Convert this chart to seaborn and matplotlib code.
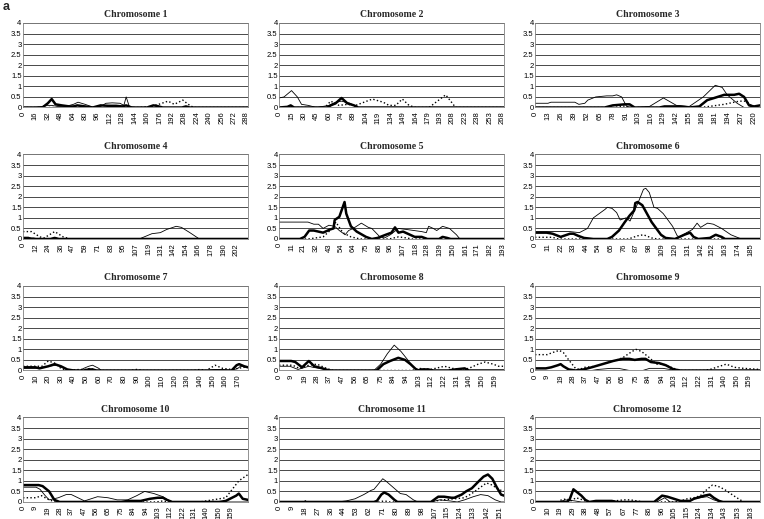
"""
plot.py
-------
Small multiples: score profiles along chromosomes 1-12 (three series per panel).
Run: python plot.py  ->  out.png
"""

import matplotlib
matplotlib.use("Agg")
import matplotlib.pyplot as plt
import seaborn as sns

# ---- x tick labels per chromosome (Excel-style category labels) ----
c1_ticks = [0, 16, 32, 48, 64, 80, 96, 112, 128, 144, 160, 176, 192, 208, 224, 240, 256, 272, 288]
c2_ticks = [0, 15, 30, 45, 60, 74, 89, 104, 119, 134, 149, 164, 179, 193, 208, 223, 238, 253, 268]
c3_ticks = [0, 13, 26, 39, 52, 65, 78, 91, 103, 116, 129, 142, 155, 168, 181, 194, 207, 220]
c4_ticks = [0, 12, 24, 36, 47, 59, 71, 83, 95, 107, 119, 131, 142, 154, 166, 178, 190, 202]
c5_ticks = [0, 11, 21, 32, 43, 54, 64, 75, 86, 96, 107, 118, 128, 139, 150, 161, 171, 182, 193]
c6_ticks = [0, 11, 22, 33, 44, 54, 65, 76, 87, 98, 109, 120, 131, 142, 152, 163, 174, 185]
c7_ticks = [0, 10, 20, 30, 40, 50, 60, 70, 80, 90, 100, 110, 120, 130, 140, 150, 160, 170]
c8_ticks = [0, 9, 19, 28, 37, 47, 56, 65, 75, 84, 94, 103, 112, 122, 131, 140, 150, 159]
c9_ticks = [0, 9, 19, 28, 37, 47, 56, 65, 75, 84, 94, 103, 112, 122, 131, 140, 150, 159]
c10_ticks = [0, 9, 19, 28, 37, 47, 56, 65, 75, 84, 94, 103, 112, 122, 131, 140, 150, 159]
c11_ticks = [0, 9, 18, 27, 36, 44, 53, 62, 71, 80, 89, 98, 107, 115, 124, 133, 142, 151]
c12_ticks = [0, 10, 19, 29, 38, 48, 57, 67, 77, 86, 96, 105, 115, 124, 134, 143, 153, 163]

# last position on each chromosome
chrom_end = [290, 270, 226, 213, 194, 193, 178, 166, 167, 172, 154, 170]

# ---- series: thin solid, dotted, thick solid ----
c1_thin_x = [0, 15, 25, 30, 37, 45, 55, 65, 71, 80, 90, 100, 107, 115, 125, 130, 133, 137, 145, 290]
c1_thin_y = [0, 0, 0.05, 0.1, 0.1, 0.05, 0.05, 0.15, 0.25, 0.15, 0.02, 0.05, 0.2, 0.22, 0.2, 0.1, 0.5, 0.05, 0, 0]
c1_dot_x = [0, 150, 165, 175, 187, 195, 206, 213, 220, 290]
c1_dot_y = [0, 0, 0.05, 0.15, 0.3, 0.15, 0.35, 0.15, 0, 0]
c1_thick_x = [0, 25, 32, 37, 42, 50, 60, 65, 70, 80, 90, 95, 100, 110, 120, 128, 133, 140, 160, 168, 172, 180, 205, 210, 215, 290]
c1_thick_y = [0, 0, 0.2, 0.4, 0.15, 0.1, 0.05, 0.05, 0.1, 0.05, 0, 0.05, 0.1, 0.08, 0.08, 0.05, 0.1, 0, 0, 0.1, 0.08, 0, 0, 0.05, 0, 0]

c2_thin_x = [0, 6, 15, 22, 27, 35, 45, 60, 68, 75, 85, 95, 270]
c2_thin_y = [0.45, 0.5, 0.8, 0.5, 0.15, 0.1, 0, 0.1, 0.25, 0.3, 0.2, 0, 0]
c2_dot_x = [0, 55, 62, 72, 82, 92, 112, 125, 132, 140, 148, 156, 164, 180, 200, 212, 270]
c2_dot_y = [0, 0, 0.3, 0.1, 0.15, 0.1, 0.4, 0.25, 0.1, 0.1, 0.4, 0.1, 0, 0, 0.6, 0, 0]
c2_thick_x = [0, 10, 14, 18, 58, 62, 68, 75, 82, 90, 95, 270]
c2_thick_y = [0, 0.03, 0.1, 0, 0, 0.1, 0.2, 0.45, 0.2, 0.1, 0, 0]

c3_thin_x = [0, 13, 16, 40, 44, 50, 53, 61, 72, 78, 82, 87, 92, 100, 115, 129, 142, 155, 169, 181, 188, 193, 203, 210, 226]
c3_thin_y = [0.2, 0.2, 0.25, 0.25, 0.15, 0.2, 0.35, 0.5, 0.55, 0.55, 0.6, 0.5, 0.05, 0, 0.05, 0.45, 0.1, 0.05, 0.5, 1.05, 0.95, 0.6, 0.2, 0, 0]
c3_dot_x = [0, 80, 88, 95, 165, 175, 190, 205, 212, 220, 226]
c3_dot_y = [0, 0, 0.08, 0, 0, 0.05, 0.15, 0.3, 0.3, 0, 0]
c3_thick_x = [0, 70, 78, 90, 95, 100, 125, 130, 145, 155, 165, 173, 180, 190, 200, 205, 210, 215, 220, 226]
c3_thick_y = [0, 0, 0.1, 0.15, 0.15, 0, 0, 0.05, 0.05, 0, 0.05, 0.35, 0.45, 0.6, 0.6, 0.65, 0.5, 0.1, 0.05, 0.1]

c4_thin_x = [0, 10, 15, 25, 30, 36, 45, 110, 122, 130, 136, 145, 150, 158, 167, 213]
c4_thin_y = [0.05, 0.05, 0, 0, 0.05, 0, 0, 0, 0.25, 0.3, 0.45, 0.6, 0.55, 0.3, 0, 0]
c4_dot_x = [0, 8, 16, 20, 30, 38, 45, 213]
c4_dot_y = [0.35, 0.35, 0.1, 0.05, 0.35, 0.1, 0, 0]
c4_thick_x = [0, 5, 8, 26, 30, 34, 213]
c4_thick_y = [0.05, 0.05, 0, 0, 0.05, 0, 0]

c5_thin_x = [0, 25, 30, 34, 38, 43, 48, 52, 57, 60, 64, 71, 77, 80, 87, 91, 96, 103, 110, 123, 127, 129, 133, 136, 141, 147, 153, 156, 194]
c5_thin_y = [0.8, 0.8, 0.7, 0.7, 0.5, 0.65, 0.6, 0.4, 0.2, 0.4, 0.5, 0.75, 0.55, 0.5, 0.1, 0.05, 0.2, 0.5, 0.45, 0.35, 0.3, 0.6, 0.5, 0.4, 0.6, 0.5, 0.2, 0, 0]
c5_dot_x = [0, 25, 38, 46, 49, 55, 62, 70, 95, 103, 110, 115, 194]
c5_dot_y = [0, 0, 0.1, 0.5, 0.8, 0.3, 0.1, 0, 0, 0.1, 0.05, 0, 0]
c5_thick_x = [0, 18, 22, 26, 30, 38, 44, 47, 48, 52, 56.5, 58, 62, 67, 75, 80, 85, 92, 97, 100, 103, 107, 113, 117, 123, 128, 138, 141, 145, 148, 194]
c5_thick_y = [0, 0, 0.1, 0.4, 0.4, 0.3, 0.45, 0.5, 0.9, 1.05, 1.75, 1.2, 0.6, 0.35, 0.1, 0, 0.05, 0.2, 0.3, 0.55, 0.3, 0.35, 0.2, 0.1, 0.1, 0, 0, 0.1, 0.05, 0, 0]

c6_thin_x = [0, 30, 38, 45, 50, 60, 62, 66, 70, 73, 78, 81.5, 89, 93, 95, 98, 102, 105, 110, 118, 122, 124, 130, 135, 139, 142, 148, 153, 160, 168, 177, 193]
c6_thin_y = [0.35, 0.35, 0.3, 0.5, 1.0, 1.4, 1.5, 1.45, 1.25, 0.9, 1.0, 0.85, 1.8, 2.35, 2.4, 2.2, 1.5, 1.45, 1.2, 0.6, 0.15, 0.1, 0.3, 0.45, 0.75, 0.55, 0.75, 0.7, 0.5, 0.2, 0, 0]
c6_dot_x = [0, 15, 20, 80, 88, 93, 100, 105, 193]
c6_dot_y = [0.08, 0.08, 0, 0, 0.15, 0.2, 0.05, 0, 0]
c6_thick_x = [0, 10, 15, 22, 30, 33, 37, 42, 50, 62, 66, 72, 77, 81, 85, 86, 88, 92, 96, 100, 104, 108, 112, 120, 124, 128, 133, 136, 140, 150, 155, 160, 163, 193]
c6_thick_y = [0.3, 0.3, 0.25, 0.1, 0.25, 0.25, 0.15, 0.05, 0, 0, 0.1, 0.4, 0.8, 1.1, 1.35, 1.7, 1.75, 1.6, 1.2, 0.8, 0.5, 0.2, 0.05, 0, 0.1, 0.2, 0.3, 0.1, 0, 0.05, 0.2, 0.1, 0, 0]

c7_thin_x = [0, 12, 20, 27, 35, 45, 48, 52, 55, 60, 62, 145, 152, 158, 165, 170, 172, 178]
c7_thin_y = [0.1, 0.1, 0.2, 0.25, 0.05, 0, 0.1, 0.2, 0.25, 0.1, 0, 0, 0.05, 0.05, 0, 0.1, 0.2, 0.15]
c7_dot_x = [0, 15, 20, 25, 30, 35, 45, 50, 53, 58, 85, 90, 95, 135, 140, 145, 152, 158, 165, 170, 175, 178]
c7_dot_y = [0.2, 0.2, 0.45, 0.35, 0.1, 0, 0.05, 0.05, 0.1, 0, 0, 0.05, 0, 0, 0.05, 0, 0.25, 0.1, 0.05, 0.1, 0.15, 0.15]
c7_thick_x = [0, 10, 13, 20, 25, 30, 35, 40, 48, 52, 55, 58, 165, 169, 171, 175, 178]
c7_thick_y = [0.15, 0.15, 0.1, 0.2, 0.3, 0.2, 0.05, 0, 0, 0.05, 0.05, 0, 0, 0.25, 0.3, 0.2, 0.15]

c8_thin_x = [0, 8, 14, 22, 25, 35, 40, 70, 75, 80, 85, 90, 95, 100, 105, 166]
c8_thin_y = [0.2, 0.2, 0.05, 0.2, 0.15, 0.05, 0, 0, 0.3, 0.8, 1.2, 0.9, 0.5, 0.1, 0, 0]
c8_dot_x = [0, 10, 15, 22, 28, 35, 40, 98, 103, 112, 122, 128, 135, 140, 147, 152, 158, 162, 166]
c8_dot_y = [0.25, 0.25, 0.1, 0.25, 0.3, 0.1, 0, 0, 0.1, 0.05, 0.2, 0.1, 0.05, 0.1, 0.3, 0.4, 0.3, 0.2, 0.2]
c8_thick_x = [0, 9, 12, 17, 22, 26, 32, 37, 72, 77, 82, 86, 88, 93, 97, 102, 105, 110, 114, 125, 130, 137, 140, 166]
c8_thick_y = [0.45, 0.45, 0.4, 0.15, 0.45, 0.2, 0.1, 0, 0, 0.3, 0.45, 0.55, 0.6, 0.5, 0.3, 0, 0.05, 0.05, 0, 0, 0.05, 0.1, 0, 0]

c9_thin_x = [0, 42, 47, 56, 62, 70, 80, 85, 95, 100, 105, 167]
c9_thin_y = [0, 0, 0.05, 0.1, 0.1, 0, 0, 0.1, 0.1, 0.05, 0, 0]
c9_dot_x = [0, 9, 13, 18, 21, 25, 30, 33, 37, 45, 56, 65, 72, 75, 79, 85, 90, 95, 103, 108, 125, 130, 137, 142, 148, 155, 167]
c9_dot_y = [0.75, 0.75, 0.85, 0.95, 0.85, 0.5, 0.1, 0.05, 0.15, 0.2, 0.4, 0.6, 0.9, 1.0, 0.9, 0.6, 0.3, 0.3, 0.1, 0, 0, 0.05, 0.2, 0.3, 0.15, 0.1, 0.05]
c9_thick_x = [0, 8, 12, 17, 19, 21, 25, 30, 36, 42, 50, 58, 65, 70, 74, 79, 82, 86, 92, 97, 103, 108, 167]
c9_thick_y = [0.1, 0.1, 0.15, 0.25, 0.3, 0.2, 0.05, 0, 0.05, 0.15, 0.3, 0.45, 0.55, 0.55, 0.5, 0.55, 0.55, 0.4, 0.35, 0.25, 0.05, 0, 0]

c10_thin_x = [0, 10, 13, 17, 20, 27, 33, 37, 42, 47, 52, 57, 65, 72, 80, 87, 93, 100, 107, 112, 116, 172]
c10_thin_y = [0.7, 0.7, 0.6, 0.3, 0.1, 0.2, 0.35, 0.35, 0.2, 0.05, 0.15, 0.25, 0.2, 0.1, 0.1, 0.3, 0.5, 0.4, 0.25, 0.05, 0, 0]
c10_dot_x = [0, 10, 14, 20, 25, 102, 107, 112, 135, 140, 150, 155, 160, 165, 172]
c10_dot_y = [0.2, 0.2, 0.3, 0.1, 0, 0, 0.05, 0, 0, 0.05, 0.15, 0.2, 0.6, 1.0, 1.3]
c10_thick_x = [0, 12, 15, 20, 24, 28, 75, 80, 90, 97, 103, 107, 110, 114, 150, 155, 163, 165, 168, 172]
c10_thick_y = [0.8, 0.8, 0.75, 0.5, 0.1, 0, 0, 0.05, 0.05, 0.15, 0.2, 0.2, 0.1, 0, 0, 0.05, 0.3, 0.4, 0.15, 0.1]

c11_thin_x = [0, 40, 46, 52, 58, 63, 65, 68, 71, 73, 78, 83, 87, 92, 95, 104, 110, 117, 122, 127, 133, 138, 143, 148, 152, 154]
c11_thin_y = [0, 0, 0.05, 0.15, 0.35, 0.55, 0.6, 0.85, 1.1, 1.0, 0.7, 0.4, 0.35, 0.1, 0, 0, 0.1, 0.05, 0, 0.1, 0.25, 0.35, 0.3, 0.1, 0, 0]
c11_dot_x = [0, 15, 18, 21, 68, 72, 76, 103, 107, 112, 120, 127, 132, 138, 142, 146, 150, 154]
c11_dot_y = [0, 0, 0.05, 0, 0, 0.05, 0, 0, 0.05, 0.1, 0.15, 0.2, 0.4, 0.7, 0.9, 0.8, 0.6, 0.5]
c11_thick_x = [0, 65, 67, 70, 72, 75, 79, 81, 104, 106, 109, 113, 118, 120, 125, 128, 132, 137, 140, 143, 146, 149, 152, 154]
c11_thick_y = [0, 0, 0.05, 0.35, 0.45, 0.35, 0.1, 0, 0, 0.1, 0.25, 0.25, 0.2, 0.2, 0.35, 0.5, 0.65, 1.0, 1.2, 1.3, 1.1, 0.7, 0.35, 0.3]

c12_thin_x = [0, 18, 23, 30, 35, 92, 95, 98, 102, 115, 120, 130, 135, 140, 170]
c12_thin_y = [0, 0, 0.1, 0.05, 0, 0, 0.1, 0.2, 0, 0, 0.15, 0.25, 0.1, 0, 0]
c12_dot_x = [0, 17, 20, 24, 27, 31, 36, 40, 50, 60, 67, 72, 77, 82, 105, 110, 115, 120, 125, 130, 134, 138, 143, 150, 155, 158, 170]
c12_dot_y = [0, 0, 0.1, 0.15, 0.05, 0.2, 0.1, 0, 0.05, 0.05, 0.1, 0.1, 0.05, 0, 0, 0.05, 0.15, 0.2, 0.3, 0.6, 0.8, 0.75, 0.6, 0.3, 0.1, 0, 0]
c12_thick_x = [0, 24, 26, 29, 31, 35, 38, 41, 46, 58, 62, 90, 92, 96, 100, 105, 110, 117, 120, 128, 132, 135, 139, 142, 170]
c12_thick_y = [0, 0, 0.1, 0.6, 0.5, 0.3, 0.1, 0, 0.05, 0.05, 0, 0, 0.1, 0.3, 0.25, 0.15, 0.05, 0.05, 0.15, 0.3, 0.35, 0.2, 0.05, 0, 0]

Y_TICKS = [0, 0.5, 1, 1.5, 2, 2.5, 3, 3.5, 4]

panels = [
    (c1_ticks, c1_thin_x, c1_thin_y, c1_dot_x, c1_dot_y, c1_thick_x, c1_thick_y),
    (c2_ticks, c2_thin_x, c2_thin_y, c2_dot_x, c2_dot_y, c2_thick_x, c2_thick_y),
    (c3_ticks, c3_thin_x, c3_thin_y, c3_dot_x, c3_dot_y, c3_thick_x, c3_thick_y),
    (c4_ticks, c4_thin_x, c4_thin_y, c4_dot_x, c4_dot_y, c4_thick_x, c4_thick_y),
    (c5_ticks, c5_thin_x, c5_thin_y, c5_dot_x, c5_dot_y, c5_thick_x, c5_thick_y),
    (c6_ticks, c6_thin_x, c6_thin_y, c6_dot_x, c6_dot_y, c6_thick_x, c6_thick_y),
    (c7_ticks, c7_thin_x, c7_thin_y, c7_dot_x, c7_dot_y, c7_thick_x, c7_thick_y),
    (c8_ticks, c8_thin_x, c8_thin_y, c8_dot_x, c8_dot_y, c8_thick_x, c8_thick_y),
    (c9_ticks, c9_thin_x, c9_thin_y, c9_dot_x, c9_dot_y, c9_thick_x, c9_thick_y),
    (c10_ticks, c10_thin_x, c10_thin_y, c10_dot_x, c10_dot_y, c10_thick_x, c10_thick_y),
    (c11_ticks, c11_thin_x, c11_thin_y, c11_dot_x, c11_dot_y, c11_thick_x, c11_thick_y),
    (c12_ticks, c12_thin_x, c12_thin_y, c12_dot_x, c12_dot_y, c12_thick_x, c12_thick_y),
]

sns.set_theme(style="white")
plt.rcParams["font.family"] = ["Liberation Sans", "DejaVu Sans"]

fig, axes = plt.subplots(4, 3, figsize=(7.64, 5.19), dpi=100)
fig.subplots_adjust(left=0.0301, right=0.9948, top=0.9557, bottom=0.0328,
                    wspace=0.138, hspace=0.556)

for i, (ax, p) in enumerate(zip(axes.flat, panels)):
    ticks, tx, ty, dx, dy, kx, ky = p
    sns.lineplot(x=tx, y=ty, ax=ax, color="black", lw=0.6, sort=False)
    sns.lineplot(x=dx, y=dy, ax=ax, color="black", lw=1.0, linestyle=":", sort=False)
    sns.lineplot(x=kx, y=ky, ax=ax, color="black", lw=1.8, sort=False)

    ax.set_xlim(0, chrom_end[i])
    ax.set_ylim(0, 4)
    ax.set_yticks(Y_TICKS)
    ax.set_yticklabels([f"{v:g}" for v in Y_TICKS])
    ax.set_xticks(ticks)
    ax.set_xticklabels([str(t) for t in ticks], rotation=90)
    ax.tick_params(axis="both", labelsize=5.5, length=2, width=0.5, pad=1, colors="black")
    ax.tick_params(axis="y", length=0)
    ax.yaxis.grid(True, color="black", lw=0.5)
    ax.set_axisbelow(True)
    for s in ax.spines.values():
        s.set_color("#808080")
        s.set_linewidth(0.6)
    ax.set_title(f"Chromosome {i + 1}", fontsize=7, fontweight="bold",
                 family=["Liberation Serif", "DejaVu Serif"], pad=4)
    ax.set_xlabel("")
    ax.set_ylabel("")

fig.text(0.004, 0.998, "a", fontsize=9, fontweight="bold", ha="left", va="top")

fig.savefig("out.png", dpi=100)
plt.close(fig)
